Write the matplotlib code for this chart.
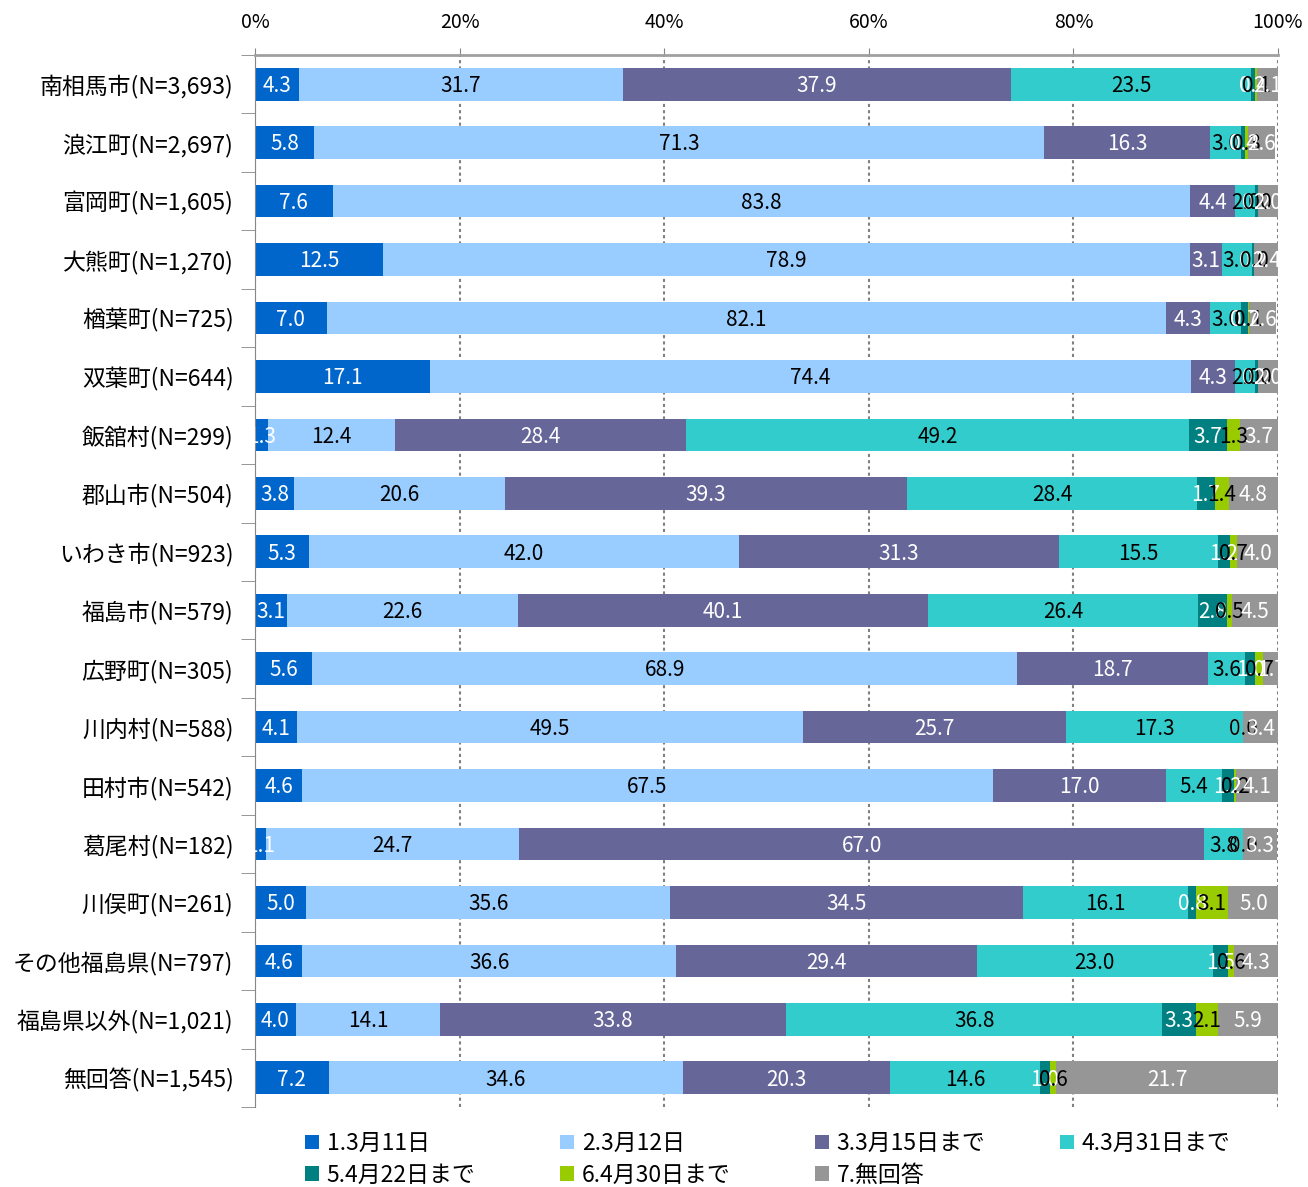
import numpy as np
import matplotlib
matplotlib.use("Agg")
import matplotlib.pyplot as plt
from matplotlib.ticker import FixedLocator

plt.rcParams['font.family'] = ['Noto Sans CJK JP', 'DejaVu Sans']

categories = ['南相馬市(N=3,693)', '浪江町(N=2,697)', '富岡町(N=1,605)', '大熊町(N=1,270)',
              '楢葉町(N=725)', '双葉町(N=644)', '飯舘村(N=299)', '郡山市(N=504)',
              'いわき市(N=923)', '福島市(N=579)', '広野町(N=305)', '川内村(N=588)',
              '田村市(N=542)', '葛尾村(N=182)', '川俣町(N=261)', 'その他福島県(N=797)',
              '福島県以外(N=1,021)', '無回答(N=1,545)']

series_names = ['1.3月11日', '2.3月12日', '3.3月15日まで', '4.3月31日まで',
                '5.4月22日まで', '6.4月30日まで', '7.無回答']

s1 = [4.3, 5.8, 7.6, 12.5, 7.0, 17.1, 1.3, 3.8, 5.3, 3.1, 5.6, 4.1, 4.6, 1.1, 5.0, 4.6, 4.0, 7.2]
s2 = [31.7, 71.3, 83.8, 78.9, 82.1, 74.4, 12.4, 20.6, 42.0, 22.6, 68.9, 49.5, 67.5, 24.7, 35.6, 36.6, 14.1, 34.6]
s3 = [37.9, 16.3, 4.4, 3.1, 4.3, 4.3, 28.4, 39.3, 31.3, 40.1, 18.7, 25.7, 17.0, 67.0, 34.5, 29.4, 33.8, 20.3]
s4 = [23.5, 3.0, 2.0, 3.0, 3.0, 2.0, 49.2, 28.4, 15.5, 26.4, 3.6, 17.3, 5.4, 3.8, 16.1, 23.0, 36.8, 14.6]
s5 = [0.4, 0.4, 0.2, 0.2, 0.7, 0.2, 3.7, 1.7, 1.2, 2.8, 1.0, 0.0, 1.2, 0.0, 0.8, 1.5, 3.3, 1.0]
s6 = [0.1, 0.3, 0.0, 0.0, 0.1, 0.0, 1.3, 1.4, 0.7, 0.5, 0.7, 0.0, 0.2, 0.0, 3.1, 0.6, 2.1, 0.6]
s7 = [2.1, 2.6, 2.0, 2.4, 2.6, 2.0, 3.7, 4.8, 4.0, 4.5, 1.7, 3.4, 4.1, 3.3, 5.0, 4.3, 5.9, 21.7]

colors = ['#0066CC', '#99CCFF', '#666699', '#33CCCC', '#008080', '#99CC00', '#969696']
text_colors = ['white', 'black', 'white', 'black', 'white', 'black', 'white']

data = np.array([s1, s2, s3, s4, s5, s6, s7])
y_pos = np.arange(len(categories))

fig = plt.figure(figsize=(13.08, 11.87), dpi=100, facecolor='w')
ax = fig.add_axes([255 / 1308, 1 - 1107 / 1187, 1023 / 1308, 1052 / 1187])

left = np.zeros(len(categories))
handles = []
for i in range(len(series_names)):
    bars = ax.barh(y_pos, data[i], left=left, height=0.56, color=colors[i],
                   label=series_names[i], zorder=2)
    handles.append(bars)
    for j, v in enumerate(data[i]):
        ax.text(left[j] + v / 2, y_pos[j] + 0.03, '{:.1f}'.format(v), ha='center', va='center',
                fontsize=15, color=text_colors[i], clip_on=True, zorder=3)
    left += data[i]

ax.set_xlim(0, 100)
ax.set_ylim(len(categories) - 0.5, -0.5)

ax.xaxis.tick_top()
ax.set_xticks(np.arange(0, 101, 20))
ax.set_xticklabels(['{}%'.format(x) for x in range(0, 101, 20)], fontsize=14)
ax.tick_params(axis='x', length=5, color='#868686', pad=11)

ax.set_yticks(y_pos)
ax.set_yticklabels(categories, fontsize=16.5)
ax.yaxis.set_minor_locator(FixedLocator(np.arange(-0.5, len(categories), 1)))
ax.tick_params(axis='y', which='major', length=0, pad=15.5)
ax.tick_params(axis='y', which='minor', length=10, color='#868686')

ax.xaxis.grid(True, linestyle=(0, (1.5, 1.5)), color='#808080', linewidth=1.5, zorder=0)
for s in ['right', 'bottom']:
    ax.spines[s].set_visible(False)
ax.spines['top'].set_color('#A0A0A0')
ax.spines['top'].set_linewidth(2)
ax.spines['left'].set_color('#868686')

# legend: 4 columns filled row by row, one small legend per column
col_x = [305, 560, 815, 1060]
for c in range(4):
    idx = [k for k in (c, c + 4) if k < len(series_names)]
    fig.legend([handles[k] for k in idx], [series_names[k] for k in idx],
               loc='upper left', bbox_to_anchor=(col_x[c] / 1308, 1 - 1132 / 1187),
               bbox_transform=fig.transFigure, frameon=False, fontsize=16.5,
               handlelength=0.6, handleheight=0.6, handletextpad=0.35,
               labelspacing=0.38, borderpad=0, borderaxespad=0)

plt.savefig('out.png', dpi=100)
